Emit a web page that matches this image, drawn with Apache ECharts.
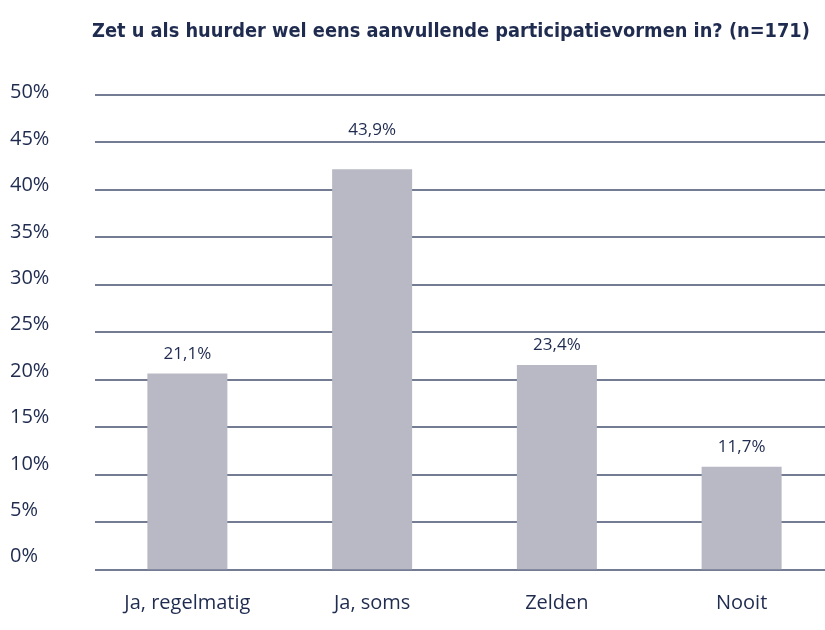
<!DOCTYPE html>
<html>
<head>
    <meta charset="utf-8">
    <title>Participatievormen</title>
    <script src="https://cdn.jsdelivr.net/npm/echarts@6/dist/echarts.min.js"></script>
    <style>
        html, body { margin: 0; padding: 0; background: #fff; }
        #chart1 { width: 825px; height: 630px; }
    </style>
</head>
<body>
<div id="chart1"></div>
<script type="text/javascript">
    // data
    var categories = ['Ja, regelmatig', 'Ja, soms', 'Zelden', 'Nooit'];
    var barValues = [20.6, 42.1, 21.5, 10.8];
    var barLabels = ['21,1%', '43,9%', '23,4%', '11,7%'];
    var tickLabels = ['0%', '5%', '10%', '15%', '20%', '25%', '30%', '35%', '40%', '45%', '50%'];

    var navy = '#1f2b4f';
    var myChart1 = echarts.init(document.getElementById('chart1'));

    var seriesData = barValues.map(function (v, i) {
        return {
            value: v,
            label: { formatter: barLabels[i], distance: i === 1 ? 31 : 11 }
        };
    });

    myChart1.setOption({
        animation: false,
        title: {
            text: 'Zet u als huurder wel eens aanvullende participatievormen in? (n=171)',
            left: 87,
            top: 17,
            textStyle: {
                fontFamily: 'DejaVu Sans Condensed',
                fontWeight: 'bold',
                fontSize: 19.8,
                color: navy
            }
        },
        grid: [
            // bars run past the right edge, as in the original
            { left: 95, right: -9, top: 94.3, height: 475, outerBoundsMode: 'none' },
            { left: 10, width: 60, top: 92.7, height: 464 }
        ],
        xAxis: [
            {
                type: 'category',
                gridIndex: 0,
                data: categories,
                axisLine: { show: false },
                axisTick: { show: false },
                axisLabel: {
                    margin: 24,
                    fontFamily: 'Open Sans',
                    fontSize: 20,
                    color: navy
                }
            },
            { type: 'value', gridIndex: 1, show: false }
        ],
        yAxis: [
            {
                type: 'value',
                gridIndex: 0,
                min: 0,
                max: 50,
                interval: 5,
                axisLabel: { show: false },
                axisLine: { show: false },
                axisTick: { show: false },
                splitLine: { lineStyle: { color: '#44506f', width: 1.5 } }
            },
            {
                type: 'category',
                gridIndex: 1,
                data: tickLabels,
                boundaryGap: false,
                axisLine: { show: false },
                axisTick: { show: false },
                splitLine: { show: false },
                axisLabel: {
                    inside: true,
                    margin: 0,
                    align: 'left',
                    fontFamily: 'Open Sans',
                    fontSize: 20,
                    color: navy
                }
            }
        ],
        series: [{
            type: 'bar',
            xAxisIndex: 0,
            yAxisIndex: 0,
            data: seriesData,
            barWidth: 80,
            itemStyle: { color: '#b9b9c5' },
            label: {
                show: true,
                position: 'top',
                fontFamily: 'Open Sans',
                fontSize: 17,
                color: navy
            }
        }]
    });
</script>
</body>
</html>
